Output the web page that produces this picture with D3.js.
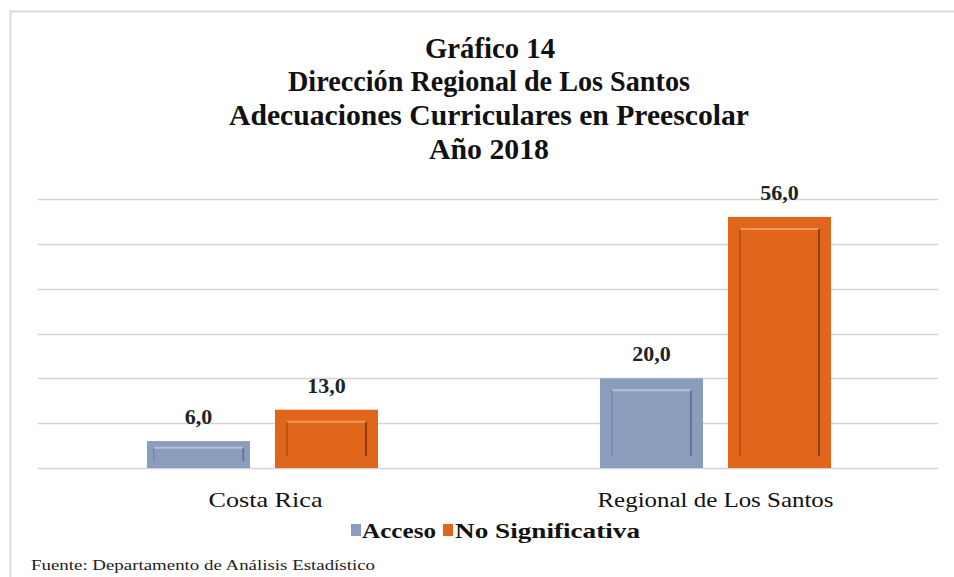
<!DOCTYPE html>
<html><head><meta charset="utf-8">
<script src="https://cdn.jsdelivr.net/npm/d3@7/dist/d3.min.js"></script>
<style>html,body{margin:0;padding:0;background:#fff;}svg{display:block;}</style>
</head><body>
<script>
const titleLines = ["Gráfico  14", "Dirección Regional de Los Santos", "Adecuaciones Curriculares en Preescolar", "Año 2018"];
const categories = ["Costa Rica", "Regional de Los Santos"];
const seriesNames = ["Acceso", "No Significativa"];
const acceso = [6.0, 20.0];
const noSignificativa = [13.0, 56.0];
const yTicks = [0, 10, 20, 30, 40, 50, 60];
const source = "Fuente: Departamento de Análisis Estadístico";

const W = 954, H = 577;
const colors = ["#8A9DBC", "#E0661B"];
const dark = ["#5a6e92", "#7e340a"];
const light = ["#b4c3da", "#f29a5e"];
const serif = "Liberation Serif";

const svg = d3.select("body").append("svg").attr("width", W).attr("height", H);

// frame (partially cropped in the reference)
svg.append("rect").attr("x", 10.5).attr("y", 11.5).attr("width", 1000).attr("height", 1000)
  .attr("fill", "none").attr("stroke", "#dcdcdc").attr("stroke-width", 2);

// title
const titleWidths = [130, 402, 520, 120];
const titleCenters = [490, 489, 489, 489];
const titleBase = [58, 91, 125, 159];
titleLines.forEach((t, i) => {
  svg.append("text").attr("x", titleCenters[i]).attr("y", titleBase[i]).attr("text-anchor", "middle")
    .attr("font-family", serif).attr("font-weight", "bold").attr("font-size", 30)
    .attr("fill", "#111")
    .attr("textLength", titleWidths[i]).attr("lengthAdjust", "spacingAndGlyphs")
    .text(t);
});

const x = d3.scaleBand().domain(categories).range([36, 942]).padding(0);
const xSub = d3.scaleBand().domain(seriesNames).range([0, x.bandwidth()]).paddingInner(0.195).paddingOuter(0.867);
const y = d3.scaleLinear().domain([0, 60]).range([468, 199]);

// gridlines
svg.append("g").selectAll("line").data(yTicks).join("line")
  .attr("x1", 38).attr("x2", 938)
  .attr("y1", d => Math.round(y(d)) + 0.5).attr("y2", d => Math.round(y(d)) + 0.5)
  .attr("stroke", "#d4d4d4").attr("stroke-width", 1.6);

const data = [];
categories.forEach((c, i) => {
  data.push({cat: c, s: 0, v: acceso[i]});
  data.push({cat: c, s: 1, v: noSignificativa[i]});
});

const bars = svg.append("g").selectAll("g").data(data).join("g")
  .attr("transform", d => `translate(${x(d.cat) + xSub(seriesNames[d.s])},0)`);
const bw = xSub.bandwidth();
bars.append("rect").attr("x", 0).attr("y", d => y(d.v)).attr("width", bw)
  .attr("height", d => y(0) - y(d.v)).attr("fill", d => colors[d.s]);
// bevel: inner panel edges
const ins = d => Math.min(12, (y(0) - y(d.v)) / 4);
bars.append("line").attr("x1", d => ins(d)).attr("x2", d => bw - ins(d))
  .attr("y1", d => y(d.v) + ins(d)).attr("y2", d => y(d.v) + ins(d))
  .attr("stroke", d => light[d.s]).attr("stroke-width", 2);
bars.append("line").attr("x1", d => bw - ins(d)).attr("x2", d => bw - ins(d))
  .attr("y1", d => y(d.v) + ins(d)).attr("y2", d => y(0) - ins(d))
  .attr("stroke", d => dark[d.s]).attr("stroke-width", 2).attr("opacity", 0.8);
bars.append("line").attr("x1", d => ins(d)).attr("x2", d => ins(d))
  .attr("y1", d => y(d.v) + ins(d)).attr("y2", d => y(0) - ins(d))
  .attr("stroke", d => dark[d.s]).attr("stroke-width", 1.5).attr("opacity", 0.45);

// value labels
bars.append("text").attr("x", bw / 2).attr("y", d => y(d.v) - 17).attr("text-anchor", "middle")
  .attr("font-family", serif).attr("font-weight", "bold").attr("font-size", 22).attr("fill", "#222")
  .text(d => d3.format(".1f")(d.v).replace(".", ","));

// category labels
svg.append("g").selectAll("text").data(categories).join("text")
  .attr("x", (d, i) => x(d) + x.bandwidth() / 2 + [3, 0][i]).attr("y", 507).attr("text-anchor", "middle")
  .attr("font-family", serif).attr("font-size", 22).attr("fill", "#111")
  .attr("textLength", (d, i) => [114, 236][i]).attr("lengthAdjust", "spacingAndGlyphs")
  .text(d => d);

// legend
const leg = [{x: 351, tx: 362, w: 74}, {x: 443, tx: 455, w: 185}];
seriesNames.forEach((s, i) => {
  svg.append("rect").attr("x", leg[i].x).attr("y", 524).attr("width", 10).attr("height", 12).attr("fill", colors[i]);
  svg.append("text").attr("x", leg[i].tx).attr("y", 538)
    .attr("font-family", serif).attr("font-weight", "bold").attr("font-size", 22).attr("fill", "#111")
    .attr("textLength", leg[i].w).attr("lengthAdjust", "spacingAndGlyphs")
    .text(s);
});

// source
svg.append("text").attr("x", 31).attr("y", 570)
  .attr("font-family", serif).attr("font-size", 15).attr("fill", "#222")
  .attr("textLength", 344).attr("lengthAdjust", "spacingAndGlyphs")
  .text(source);
</script>
</body></html>
